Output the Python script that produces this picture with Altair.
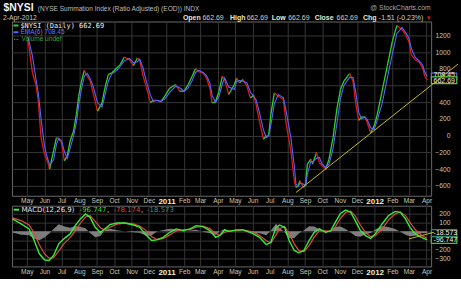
import altair as alt
import pandas as pd
import numpy as np

# ---------------- data ----------------
nysi_dates = [
    "2010-05-03", "2010-05-11", "2010-05-17", "2010-05-21", "2010-05-26", "2010-06-01", "2010-06-06", "2010-06-10",
    "2010-06-17", "2010-06-22", "2010-06-26", "2010-07-01", "2010-07-06", "2010-07-11", "2010-07-16", "2010-07-22",
    "2010-07-27", "2010-07-31", "2010-08-05", "2010-08-10", "2010-08-15", "2010-08-20", "2010-08-26", "2010-09-02",
    "2010-09-10", "2010-09-15", "2010-09-21", "2010-09-27", "2010-10-06", "2010-10-12", "2010-10-19", "2010-10-28",
    "2010-11-04", "2010-11-11", "2010-11-15", "2010-11-21", "2010-11-27", "2010-12-04", "2010-12-09", "2010-12-15",
    "2010-12-22", "2010-12-29", "2011-01-07", "2011-01-17", "2011-01-24", "2011-02-01", "2011-02-08", "2011-02-15",
    "2011-02-21", "2011-02-27", "2011-03-06", "2011-03-12", "2011-03-18", "2011-03-22", "2011-03-28", "2011-04-03",
    "2011-04-09", "2011-04-13", "2011-04-20", "2011-04-30", "2011-05-04", "2011-05-09", "2011-05-15", "2011-05-22",
    "2011-05-28", "2011-06-03", "2011-06-07", "2011-06-13", "2011-06-20", "2011-06-25", "2011-06-29", "2011-07-03",
    "2011-07-09", "2011-07-16", "2011-07-25", "2011-07-30", "2011-08-07", "2011-08-13", "2011-08-16", "2011-08-20",
    "2011-08-23", "2011-08-29", "2011-09-02", "2011-09-05", "2011-09-11", "2011-09-14", "2011-09-21", "2011-09-26",
    "2011-10-01", "2011-10-07", "2011-10-13", "2011-10-20", "2011-10-27", "2011-11-02", "2011-11-08", "2011-11-18",
    "2011-11-24", "2011-11-29", "2011-12-04", "2011-12-09", "2011-12-15", "2011-12-19", "2011-12-25", "2011-12-31",
    "2012-01-05", "2012-01-14", "2012-01-23", "2012-02-01", "2012-02-09", "2012-02-18", "2012-02-24", "2012-03-01",
    "2012-03-05", "2012-03-12", "2012-03-19", "2012-03-25", "2012-03-29", "2012-04-02",
]
nysi_vals = [
    1150, 750, 612, 433, -24, -221, -301, -400,
    -182, -24, -36, -83, -301, -242, -63, 56,
    255, 472, 651, 782, 711, 660, 493, 294,
    393, 571, 731, 750, 810, 850, 940, 909,
    838, 929, 901, 711, 571, 393, 425, 421,
    405, 472, 571, 612, 532, 532, 612, 711,
    802, 762, 750, 690, 571, 393, 405, 532,
    711, 671, 493, 612, 690, 631, 671, 592,
    452, 485, 374, 175, -43, -4, -4, 255,
    512, 472, 433, 136, -182, -539, -619, -599,
    -539, -619, -579, -340, -281, -340, -202, -321,
    -361, -400, -281, -24, 333, 552, 651, 743,
    651, 374, 183, 223, 223, 155, 36, 115,
    235, 532, 830, 1127, 1318, 1267, 1207, 1127,
    969, 909, 881, 810, 711, 662.69,
]
ema_vals = [
    1180, 950, 681, 522, 204, -122, -261, -350,
    -291, -103, -30, -60, -192, -271, -152, -4,
    155, 363, 561, 716, 746, 685, 576, 393,
    343, 482, 651, 740, 780, 830, 895, 924,
    873, 883, 915, 806, 641, 482, 409, 423,
    413, 438, 521, 591, 572, 532, 572, 661,
    756, 782, 756, 720, 630, 482, 399, 468,
    621, 691, 582, 552, 651, 660, 651, 631,
    522, 468, 430, 275, 66, -23, -4, 125,
    383, 492, 452, 285, -23, -360, -579, -609,
    -569, -579, -599, -460, -310, -310, -271, -261,
    -341, -380, -340, -152, 155, 442, 601, 697,
    697, 512, 278, 203, 223, 189, 95, 75,
    175, 383, 681, 978, 1222, 1292, 1237, 1167,
    1048, 939, 895, 845, 760, 708.45,
]

macd_dates = [
    "2010-04-06", "2010-04-21", "2010-05-05", "2010-05-14", "2010-05-23", "2010-06-01", "2010-06-09", "2010-06-17",
    "2010-06-26", "2010-07-05", "2010-07-16", "2010-07-25", "2010-08-03", "2010-08-12", "2010-08-20", "2010-08-29",
    "2010-09-07", "2010-09-15", "2010-09-24", "2010-10-06", "2010-10-20", "2010-11-04", "2010-11-15", "2010-11-27",
    "2010-12-06", "2010-12-15", "2010-12-26", "2011-01-07", "2011-01-18", "2011-01-30", "2011-02-11", "2011-02-22",
    "2011-03-06", "2011-03-18", "2011-03-28", "2011-04-04", "2011-04-13", "2011-04-21", "2011-05-03", "2011-05-15",
    "2011-06-01", "2011-06-13", "2011-06-25", "2011-07-03", "2011-07-12", "2011-07-18", "2011-07-27", "2011-08-04",
    "2011-08-13", "2011-08-21", "2011-08-30", "2011-09-08", "2011-09-17", "2011-09-26", "2011-10-07", "2011-10-16",
    "2011-10-24", "2011-11-02", "2011-11-11", "2011-11-20", "2011-11-28", "2011-12-07", "2011-12-16", "2011-12-25",
    "2012-01-02", "2012-01-14", "2012-01-25", "2012-02-06", "2012-02-15", "2012-02-24", "2012-03-03", "2012-03-12",
    "2012-03-23", "2012-04-02",
]
macd_vals = [
    138, 82, 27, -103, -251, -318, -326, -270,
    -140, -84, -29, 63, 138, 193, 156, 44,
    -11, 27, 74, 93, 93, 71, 44, -48,
    -103, -96, -67, -11, 27, 8, 27, 63,
    52, 8, -67, -48, 16, 0, 16, 16,
    -22, -67, -148, -122, 44, 71, 44, -103,
    -214, -240, -214, -103, -11, 27, -11, 8,
    100, 200, 237, 211, 119, 8, -48, -78,
    -29, 82, 174, 222, 211, 138, 44, -29,
    -67, -96.747,
]
signal_vals = [
    150, 120, 70, -20, -150, -250, -300, -295,
    -220, -140, -70, 5, 90, 160, 175, 110,
    40, 15, 45, 80, 92, 82, 60, 5,
    -60, -90, -82, -40, 5, 15, 18, 45,
    57, 30, -25, -45, -10, 5, 8, 15,
    -5, -45, -105, -130, -40, 30, 55, -25,
    -140, -215, -225, -160, -65, 5, 5, 0,
    50, 145, 210, 225, 170, 70, -15, -60,
    -50, 25, 125, 195, 215, 175, 100, 20,
    -45, -78.174,
]
hist_vals = [
    -12, -38, -43, -83, -101, -68, -26, 25,
    80, 56, 41, 58, 48, 33, -19, -66,
    -51, 12, 29, 13, 1, -11, -16, -53,
    -43, -6, 15, 29, 22, -7, 9, 18,
    -5, -22, -42, -3, 26, -5, 8, 1,
    -17, -22, -43, 8, 84, 41, -11, -78,
    -74, -25, 11, 57, 54, 22, -16, 8,
    50, 55, 27, -14, -51, -62, -33, -18,
    21, 57, 49, 27, -4, -37, -56, -49,
    -22, -18.573,
]

trend_dates = ["2011-08-16", "2012-05-26"]
trend_vals = [-679, 856]
macd_trend_dates = ["2012-03-01", "2012-04-14"]
macd_trend_vals = [-85, -10]

month_ticks = [(2010, m) for m in range(5, 13)] + [(2011, m) for m in range(1, 13)] + [(2012, m) for m in range(1, 5)]
main_y_ticks = [-600, -400, -200, 0, 200, 400, 600, 800, 1000, 1200]
macd_y_ticks = [-300, -200, -100, 0, 100, 200]
main_hidden_labels = [600]          # covered by the price boxes
macd_hidden_labels = [0, -100]      # covered by the price boxes

# ---------------- styles ----------------
W = 421
H_MAIN = 175
H_MACD = 61
GRID = "#363636"
LBL = "#c8c8b4"
UP = "#2fd02f"
DOWN = "#e01818"
EMA_C = "#5565ff"
YEL = "#c8c000"
SANS = "Liberation Sans"

x_scale = alt.Scale(type="utc", nice=False,
                    domain=[alt.DateTime(year=2010, month=4, date=5, utc=True),
                            alt.DateTime(year=2012, month=4, date=9, utc=True)])
tick_vals = [alt.DateTime(year=y, month=m, date=1, utc=True) for y, m in month_ticks]
is_year = "utcmonth(datum.value) == 0"


def x_axis():
    return alt.Axis(
        title=None, values=tick_vals, grid=True, gridColor=GRID, gridWidth=1,
        domain=False, ticks=False, tickSize=0, labelPadding=2,
        labelExpr="utcmonth(datum.value) == 0 ? utcFormat(datum.value, '%Y') : utcFormat(datum.value, '%b')",
        labelFont=SANS,
        labelFontSize={"condition": {"test": is_year, "value": 8}, "value": 6.6},
        labelFontWeight={"condition": {"test": is_year, "value": "bold"}, "value": "normal"},
        labelColor={"condition": {"test": is_year, "value": "#f0f0d0"}, "value": LBL},
        labelOverlap=False, labelFlush=False,
    )


def y_axis(vals, hidden):
    test = " || ".join(f"datum.value == {h}" for h in hidden)
    return alt.Axis(
        title=None, orient="right", values=vals, grid=True, gridColor=GRID, gridWidth=1,
        domain=False, ticks=False, tickSize=0, labelPadding=19, labelAlign="right",
        labelFont=SANS, labelFontSize=6.8, labelColor=LBL, labelBaseline="middle",
        format="d", labelExpr=f"({test}) ? '' : datum.label",
    )


main_y = alt.Scale(domain=[-718, 1365], nice=False, zero=False)
macd_y = alt.Scale(domain=[-392, 285.6], nice=False, zero=False)
MAIN_AX = y_axis(main_y_ticks, main_hidden_labels)
MACD_AX = y_axis(macd_y_ticks, macd_hidden_labels)


def label(txt, x, y, size=7, color="#cccccc", weight="normal", font=SANS, align="left"):
    return alt.Chart(pd.DataFrame({"t": [txt]})).mark_text(
        align=align, baseline="middle", fontSize=size, color=color, fontWeight=weight, font=font
    ).encode(x=alt.value(x), y=alt.value(y), text="t:N")


def dash(x1, x2, y, color, width=2):
    return alt.Chart(pd.DataFrame({"a": [0]})).mark_rule(color=color, strokeWidth=width).encode(
        x=alt.value(x1), x2=alt.value(x2), y=alt.value(y))


BOX = "M-1,-0.26L1,-0.26L1,0.26L-1,0.26Z"


def price_box(val, color, txt, yscale, axis, textcolor="#f0f0e0", show_text=True, text_dy=0):
    df = pd.DataFrame({"v": [val], "t": [txt]})
    box = alt.Chart(df).mark_point(shape=BOX, size=650, filled=False, fill="black", fillOpacity=1,
                                   stroke=color, strokeWidth=1.2, opacity=1, clip=False).encode(
        x=alt.value(434), y=alt.Y("v:Q", scale=yscale, axis=axis))
    if not show_text:
        return box
    text = alt.Chart(df).mark_text(align="left", baseline="middle", fontSize=7, font=SANS,
                                   color=textcolor, clip=False, dy=text_dy).encode(
        x=alt.value(423.5), y=alt.Y("v:Q", scale=yscale, axis=axis), text="t:N")
    return box + text


# ---------------- main panel ----------------
nysi_df = pd.DataFrame({"date": nysi_dates, "v": nysi_vals, "ema": ema_vals})
seg = pd.DataFrame({"d1": nysi_dates[:-1], "d2": nysi_dates[1:], "v1": nysi_vals[:-1], "v2": nysi_vals[1:]})
seg["dir"] = np.where(seg["v2"] >= seg["v1"], "up", "down")

bounds = alt.Chart(pd.DataFrame({"a": [0]})).mark_rect(opacity=0).encode(
    x=alt.value(-11), x2=alt.value(450), y=alt.value(-20), y2=alt.value(257))

segs = alt.Chart(seg).mark_rule(strokeWidth=1.3).encode(
    x=alt.X("d1:T", scale=x_scale, axis=x_axis()), x2="d2:T",
    y=alt.Y("v1:Q", scale=main_y, axis=MAIN_AX), y2="v2:Q",
    color=alt.Color("dir:N", scale=alt.Scale(domain=["up", "down"], range=[UP, DOWN]), legend=None),
)
ema = alt.Chart(nysi_df).mark_line(color=EMA_C, strokeWidth=1.1).encode(
    x=alt.X("date:T", scale=x_scale, axis=x_axis()),
    y=alt.Y("ema:Q", scale=main_y, axis=MAIN_AX),
)
trend = alt.Chart(pd.DataFrame({"date": trend_dates, "v": trend_vals})).mark_line(
    color=YEL, strokeWidth=1, clip=False).encode(
    x=alt.X("date:T", scale=x_scale, axis=x_axis()),
    y=alt.Y("v:Q", scale=main_y, axis=MAIN_AX),
)

HDR_Y = -4.0
main_layers = [
    bounds, segs, ema,
    price_box(708.45, "#5a6aff", "708.45", main_y, MAIN_AX, text_dy=-1),
    price_box(662.69, "#50c850", "662.69", main_y, MAIN_AX, text_dy=0.5),
    trend,
    # legend
    dash(1.5, 6.5, 4, UP),
    label("$NYSI (Daily) 662.69", 8.5, 4.3, size=7, color="#f0f0f0", font="DejaVu Sans Mono"),
    dash(1.5, 6.5, 10.8, EMA_C),
    label("EMA(6) 708.45", 8.5, 11, size=6.6, color="#6a78ff"),
    dash(2, 3, 18, "#3aa83a", width=1), dash(3.7, 4.7, 18, "#3aa83a", width=1), dash(5.4, 6.4, 18, "#3aa83a", width=1),
    label("Volume undef", 9.5, 17.8, size=6.6, color="#3aa83a"),
    # header
    label("$NYSI", -8.5, -13.2, size=10.5, color="#f4f4f4", weight="bold"),
    label("(NYSE Summation Index (Ratio Adjusted) (EOD)) INDX", 26, -12.3, size=6.6, color="#bdbdbd"),
    label("@ StockCharts.com", 420.5, -14, size=6.8, color="#a8a8a8", align="right"),
    label("2-Apr-2012", -9, HDR_Y, size=6.8, color="#c8c8c8"),
    label("Open", 171.7, HDR_Y, size=7, color="#e8e8c8", weight="bold"),
    label("662.69", 191.3, HDR_Y, size=7, color="#d0d0d0"),
    label("High", 219, HDR_Y, size=7, color="#e8e8c8", weight="bold"),
    label("662.69", 235.7, HDR_Y, size=7, color="#d0d0d0"),
    label("Low", 261, HDR_Y, size=7, color="#e8e8c8", weight="bold"),
    label("662.69", 277.5, HDR_Y, size=7, color="#d0d0d0"),
    label("Close", 304, HDR_Y, size=7, color="#e8e8c8", weight="bold"),
    label("662.69", 326, HDR_Y, size=7, color="#d0d0d0"),
    label("Chg", 352.5, HDR_Y, size=7, color="#e8e8c8", weight="bold"),
    label("-1.51 (-0.23%)", 368.5, HDR_Y, size=7, color="#d0d0d0"),
    label("\u25bc", 418.5, HDR_Y + 0.3, size=6, color="#e02020", align="center"),
]
main = alt.layer(*main_layers).properties(width=W, height=H_MAIN)

# ---------------- MACD panel ----------------
macd_df = pd.DataFrame({"date": macd_dates, "macd": macd_vals, "sig": signal_vals, "hist": hist_vals})

hist = alt.Chart(macd_df).mark_area(color="#8a8a8a", opacity=0.9).encode(
    x=alt.X("date:T", scale=x_scale, axis=x_axis()),
    y=alt.Y("hist:Q", scale=macd_y, axis=MACD_AX), y2=alt.datum(0),
)
sig = alt.Chart(macd_df).mark_line(color="#e04848", strokeWidth=1.2).encode(
    x=alt.X("date:T", scale=x_scale, axis=x_axis()),
    y=alt.Y("sig:Q", scale=macd_y, axis=MACD_AX),
)
mline = alt.Chart(macd_df).mark_line(color="#33ee33", strokeWidth=1.4).encode(
    x=alt.X("date:T", scale=x_scale, axis=x_axis()),
    y=alt.Y("macd:Q", scale=macd_y, axis=MACD_AX),
)
mtrend = alt.Chart(pd.DataFrame({"date": macd_trend_dates, "v": macd_trend_vals})).mark_line(
    color=YEL, strokeWidth=1, clip=False).encode(
    x=alt.X("date:T", scale=x_scale, axis=x_axis()),
    y=alt.Y("v:Q", scale=macd_y, axis=MACD_AX),
)

LEG_Y = 4.2
macd_layers = [
    hist, sig, mline,
    price_box(-78.174, "#d04040", "-78.174", macd_y, MACD_AX, show_text=False),
    price_box(-96.747, "#40c040", "-96.747", macd_y, MACD_AX),
    price_box(-18.573, "#2a8a80", "-18.573", macd_y, MACD_AX),
    mtrend,
    dash(1.7, 7.3, 4, "#33ee33"),
    label("MACD(12,26,9)", 9.7, LEG_Y, size=7, color="#e4e4e4", font="DejaVu Sans"),
    label("-96.747", 68, LEG_Y, size=7, color="#33dd33", font="DejaVu Sans"),
    label(",", 95.5, LEG_Y, size=7, color="#e4e4e4", font="DejaVu Sans"),
    label("-78.174", 102, LEG_Y, size=7, color="#e04848", font="DejaVu Sans"),
    label(",", 129.5, LEG_Y, size=7, color="#e4e4e4", font="DejaVu Sans"),
    label("-18.573", 135.7, LEG_Y, size=7, color="#2a9a8a", font="DejaVu Sans"),
]
macd = alt.layer(*macd_layers).properties(width=W, height=H_MACD)

chart = alt.vconcat(main, macd, spacing=10, bounds="flush", padding=0, background="black").configure_view(
    stroke="#6a6a6a", strokeWidth=1
)

chart.save("out.html", embed_options={"renderer": "svg", "actions": False})
